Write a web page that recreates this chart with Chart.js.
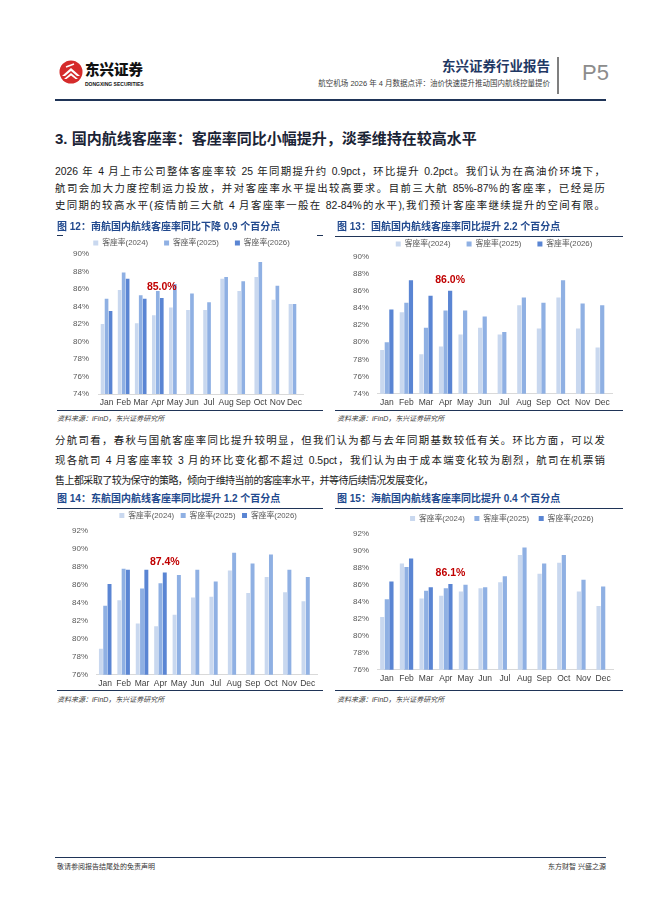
<!DOCTYPE html>
<html>
<head>
<meta charset="utf-8">
<script src="https://cdn.jsdelivr.net/npm/chart.js@4.4.0/dist/chart.umd.min.js"></script>
<style>
  body { margin: 0; background: #fff; }
  #page { position: relative; width: 662px; height: 898px; overflow: hidden; background: #fff;
    font-family: "Liberation Sans", Arial, "Noto Sans CJK SC", sans-serif; color: #1a1a1a; }
  .t { position: absolute; white-space: nowrap; line-height: 1; transform: translateY(-50%); z-index: 2; }
  .line { position: absolute; white-space: normal; line-height: 1; transform: translateY(-50%);
    text-align: justify; text-align-last: justify; font-size: 10.4px; z-index: 2; }
  .rule { position: absolute; background: #1f3457; }
  .box { position: absolute; z-index: 1; }
  .ttl { font-size: 10px; font-weight: bold; color: #21498e; }
  .src { font-size: 7px; font-style: italic; color: #404040; }
</style>
</head>
<body>
<div id="page">
  <!-- header -->
  <svg style="position:absolute;left:59px;top:60px" width="24" height="24" viewBox="0 0 24 24">
    <circle cx="12" cy="12" r="11.5" fill="#d52b2b"/>
    <path d="M3 16 L12 8 L21 16 L18 16 L12 11 L6 16 Z" fill="#fff"/>
    <path d="M5 19 L12 13 L19 19 L16.5 19 L12 15.5 L7.5 19 Z" fill="#fff"/>
    <path d="M7 7 L15 4" stroke="#fff" stroke-width="1.4"/>
  </svg>
  <div class="t" style="left:85px;top:69px;font-size:14.5px;font-weight:900;color:#111;font-family:'Noto Sans CJK SC',sans-serif;">东兴证券</div>
  <div class="t" style="left:85px;top:83.5px;font-size:5px;font-weight:bold;color:#111;">DONGXING SECURITIES</div>
  <div class="t" style="right:112px;top:67px;font-size:13.5px;font-weight:bold;color:#1f3864;">东兴证券行业报告</div>
  <div class="t" style="right:112px;top:84px;font-size:7.5px;color:#404040;">航空机场 2026 年 4 月数据点评：油价快速提升推动国内航线控量提价</div>
  <div class="rule" style="left:557px;top:57px;width:1.5px;height:37px;background:#7f7f7f;"></div>
  <div class="t" style="left:582px;top:73px;font-size:22px;color:#8c8c8c;">P5</div>
  <div class="rule" style="left:55px;top:99px;width:551px;height:2px;"></div>

  <div class="t" style="left:55px;top:137.5px;font-size:15px;font-weight:bold;color:#1b2436;">3. 国内航线客座率：客座率同比小幅提升，淡季维持在较高水平</div>

  <div class="line" style="left:55px;width:550px;top:172px;">2026 年 4 月上市公司整体客座率较 25 年同期提升约 0.9pct，环比提升 0.2pct。我们认为在高油价环境下，</div>
  <div class="line" style="left:55px;width:550px;top:189px;">航司会加大力度控制运力投放，并对客座率水平提出较高要求。目前三大航 85%-87%的客座率，已经是历</div>
  <div class="line" style="left:55px;width:550px;top:206px;">史同期的较高水平(疫情前三大航 4 月客座率一般在 82-84%的水平),我们预计客座率继续提升的空间有限。</div>

  <!-- chart 12 / 13 frame -->
  <div class="t ttl" style="left:57px;top:227px;">图 12：南航国内航线客座率同比下降 0.9 个百分点</div>
  <div class="t ttl" style="left:337px;top:227px;">图 13：国航国内航线客座率同比提升 2.2 个百分点</div>
  <div class="rule" style="left:57px;top:235px;width:6px;height:1.2px;"></div>
  <div class="rule" style="left:317px;top:235px;width:6px;height:1.2px;"></div>
  <div class="rule" style="left:335px;top:236px;width:288px;height:1.2px;"></div>
  <div class="box" style="left:55px;top:222.8px;width:267px;height:189.2px;"><canvas id="c12"></canvas></div>
  <div class="box" style="left:335px;top:224.4px;width:285px;height:188px;"><canvas id="c13"></canvas></div>
  <div class="rule" style="left:57px;top:410px;width:266px;height:1.2px;"></div>
  <div class="rule" style="left:335px;top:410px;width:288px;height:1.2px;"></div>
  <div class="t src" style="left:57px;top:418px;">资料来源：iFinD，东兴证券研究所</div>
  <div class="t src" style="left:337px;top:418px;">资料来源：iFinD，东兴证券研究所</div>

  <div class="line" style="left:55px;width:550px;top:441px;">分航司看，春秋与国航客座率同比提升较明显，但我们认为都与去年同期基数较低有关。环比方面，可以发</div>
  <div class="line" style="left:55px;width:550px;top:461px;">现各航司 4 月客座率较 3 月的环比变化都不超过 0.5pct，我们认为由于成本端变化较为剧烈，航司在机票销</div>
  <div class="t" style="left:55px;top:481px;font-size:10px;letter-spacing:-0.55px;">售上都采取了较为保守的策略，倾向于维持当前的客座率水平，并等待后续情况发展变化，</div>

  <!-- chart 14 / 15 frame -->
  <div class="t ttl" style="left:57px;top:499px;">图 14：东航国内航线客座率同比提升 1.2 个百分点</div>
  <div class="t ttl" style="left:337px;top:499px;">图 15：海航国内航线客座率同比提升 0.4 个百分点</div>
  <div class="rule" style="left:57px;top:507.5px;width:266px;height:1.2px;"></div>
  <div class="rule" style="left:335px;top:507.5px;width:288px;height:1.2px;"></div>
  <div class="box" style="left:55px;top:504.6px;width:270px;height:188px;"><canvas id="c14"></canvas></div>
  <div class="box" style="left:335px;top:504.9px;width:285px;height:183px;"><canvas id="c15"></canvas></div>
  <div class="rule" style="left:57px;top:690px;width:266px;height:1.2px;"></div>
  <div class="rule" style="left:335px;top:690px;width:288px;height:1.2px;"></div>
  <div class="t src" style="left:57px;top:698.5px;">资料来源：iFinD，东兴证券研究所</div>
  <div class="t src" style="left:337px;top:698.5px;">资料来源：iFinD，东兴证券研究所</div>

  <!-- footer -->
  <div class="rule" style="left:55px;top:856.5px;width:551px;height:1.2px;"></div>
  <div class="t" style="left:57px;top:866px;font-size:7px;color:#333;">敬请参阅报告结尾处的免责声明</div>
  <div class="t" style="right:56px;top:866px;font-size:7px;color:#333;">东方财智 兴盛之源</div>
</div>

<script>
// load factor data (%)
const months = ['Jan', 'Feb', 'Mar', 'Apr', 'May', 'Jun', 'Jul', 'Aug', 'Sep', 'Oct', 'Nov', 'Dec'];
const seriesNames = ['客座率(2024)', '客座率(2025)', '客座率(2026)'];
const highlightMonth = 'Apr';

// 南航
const csn2024 = [82.0, 85.9, 82.1, 83.0, 83.9, 83.6, 83.6, 87.2, 85.8, 87.4, 84.8, 84.3];
const csn2025 = [84.9, 87.9, 85.3, 85.8, 86.6, 85.5, 84.5, 87.4, 86.9, 89.1, 86.4, 84.3];
const csn2026 = [83.5, 87.2, 84.9, 85.0, null, null, null, null, null, null, null, null];
// 国航
const cca2024 = [79.1, 83.5, 78.6, 79.5, 80.9, 81.7, 80.9, 84.3, 81.6, 85.2, 81.6, 79.4];
const cca2025 = [80.0, 84.6, 81.7, 83.7, 83.7, 83.0, 81.2, 85.2, 84.6, 87.2, 84.5, 84.3];
const cca2026 = [83.8, 87.2, 85.4, 86.0, null, null, null, null, null, null, null, null];
// 东航
const cea2024 = [78.9, 84.3, 81.7, 81.4, 82.7, 84.6, 84.7, 87.6, 85.1, 86.9, 85.2, 84.2];
const cea2025 = [83.7, 87.8, 85.6, 86.2, 87.1, 87.7, 86.4, 89.6, 88.4, 89.4, 87.7, 86.9];
const cea2026 = [86.1, 87.7, 87.7, 87.4, null, null, null, null, null, null, null, null];
// 海航
const hna2024 = [82.2, 88.5, 84.4, 84.7, 85.2, 85.6, 86.3, 89.5, 87.3, 88.6, 85.2, 83.5];
const hna2025 = [84.3, 88.1, 85.3, 85.6, 86.0, 85.7, 87.0, 90.4, 88.5, 89.5, 86.6, 85.8];
const hna2026 = [86.4, 89.1, 85.7, 86.1, null, null, null, null, null, null, null, null];

// y axis ranges and step (tick labels 74%..90% / 76%..92%)
const yRangeA = [74, 90];
const yRangeB = [76, 92];
const yStep = 2;

const barColors = ['#c9d8ef', '#8fb0e3', '#5a85d3'];

Chart.defaults.font.family = '"Liberation Sans", Arial, "Noto Sans CJK SC", sans-serif';

// nudge legend: extra vertical gap and horizontal shift
const legendTweak = {
  id: 'legendTweak',
  beforeInit(chart, args, opts) {
    const fit = chart.legend.fit;
    chart.legend.fit = function () {
      fit.call(this);
      this.height += opts.dy || 0;
    };
  },
  afterLayout(chart, args, opts) {
    chart.legend.left += opts.dx || 0;
    chart.legend.right += opts.dx || 0;
  }
};

// red value label over the latest month bar
const latestLabel = {
  id: 'latestLabel',
  afterDatasetsDraw(chart) {
    const i = months.indexOf(highlightMonth);
    const bar = chart.getDatasetMeta(2).data[i];
    const v = chart.data.datasets[2].data[i];
    const ctx = chart.ctx;
    ctx.save();
    ctx.font = 'bold 10.5px "Liberation Sans", Arial, sans-serif';
    ctx.fillStyle = '#c00000';
    ctx.textAlign = 'center';
    ctx.textBaseline = 'middle';
    ctx.fillText(v.toFixed(1) + '%', bar.x, bar.y - 10.5);
    ctx.restore();
  }
};

function drawChart(id, s2024, s2025, s2026, yRange, look) {
  const series = [s2024, s2025, s2026];
  new Chart(document.getElementById(id), {
    type: 'bar',
    data: {
      labels: months,
      datasets: series.map((d, k) => ({
        label: seriesNames[k],
        data: d,
        backgroundColor: barColors[k],
        borderWidth: 0,
        categoryPercentage: 0.7,
        barPercentage: 0.92
      }))
    },
    options: {
      responsive: true,
      maintainAspectRatio: false,
      animation: false,
      layout: { padding: { left: look.pl, right: look.pr, top: 0, bottom: 0 } },
      plugins: {
        legend: {
          position: 'top',
          labels: { boxWidth: 5, boxHeight: 5, padding: look.lp, color: '#595959', font: { size: 7.8 } }
        },
        tooltip: { enabled: false },
        legendTweak: { dx: look.dx, dy: look.dy }
      },
      scales: {
        x: {
          grid: { display: false, drawTicks: false },
          border: { display: true, color: '#d9d9d9' },
          ticks: { color: '#404040', font: { size: 8.5 }, padding: 4, maxRotation: 0, autoSkip: false }
        },
        y: {
          min: yRange[0],
          max: yRange[1],
          grid: { display: false, drawTicks: false },
          border: { display: false },
          ticks: { stepSize: yStep, padding: look.tp, color: '#595959', font: { size: 8 },
            callback: v => v + '%' }
        }
      }
    },
    plugins: [legendTweak, latestLabel]
  });
}

drawChart('c12', csn2024, csn2025, csn2026, yRangeA, { pl: 9, pr: 19, lp: 16, dx: 8, dy: -2.6, tp: 9 });
drawChart('c13', cca2024, cca2025, cca2026, yRangeA, { pl: 10, pr: 8, lp: 16, dx: 15.5, dy: -1.5, tp: 8 });
drawChart('c14', cea2024, cea2025, cea2026, yRangeB, { pl: 9, pr: 8, lp: 6.5, dx: 17.6, dy: 1.8, tp: 8 });
drawChart('c15', hna2024, hna2025, hna2026, yRangeB, { pl: 10, pr: 7, lp: 9.5, dx: 22.8, dy: 1.5, tp: 8 });
</script>
</body>
</html>
